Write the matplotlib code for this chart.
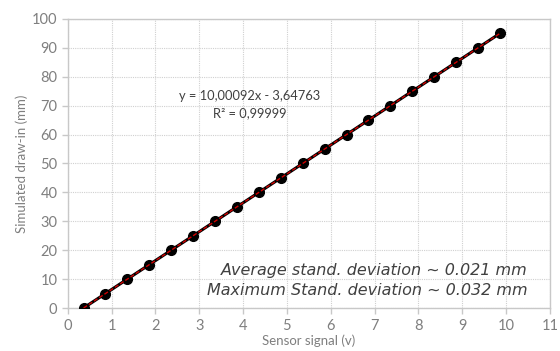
import numpy as np
import matplotlib.pyplot as plt

# sensor signal (v) vs simulated draw-in (mm)
signal = [0.36, 0.86, 1.36, 1.86, 2.36, 2.86, 3.36, 3.86, 4.36, 4.86,
          5.36, 5.86, 6.36, 6.86, 7.36, 7.86, 8.36, 8.86, 9.36, 9.86]
draw_in = [0, 5, 10, 15, 20, 25, 30, 35, 40, 45,
           50, 55, 60, 65, 70, 75, 80, 85, 90, 95]

x_ticks = list(range(0, 12))
y_ticks = list(range(0, 101, 10))

plt.rcParams['font.family'] = ['Lato', 'DejaVu Sans']
gray = '#7f7f7f'

fig = plt.figure(figsize=(5.6, 3.51), dpi=100)
ax = fig.add_axes([0.121, 0.1225, 0.861, 0.8235])

ax.plot(signal, draw_in, '-', color='black', lw=2.2, marker='o', ms=7, mfc='black', mec='black', zorder=3)

# linear trendline
k, b = np.polyfit(signal, draw_in, 1)
xs = np.array([min(signal), max(signal)])
ax.plot(xs, k * xs + b, color='#d00000', lw=1.0, ls=(0, (3, 1.5)), zorder=4)

ax.text(4.15, 73.4, "y = 10,00092x - 3,64763", ha='center', va='center', fontsize=9.3, color='#404040')
ax.text(4.15, 67.4, "R² = 0,99999", ha='center', va='center', fontsize=9.3, color='#404040')

ax.text(10.5, 13.1, "Average stand. deviation ~ 0.021 mm", ha='right', va='center',
        fontsize=11.5, style='italic', color='#404040', family='DejaVu Sans')
ax.text(10.5, 6.1, "Maximum Stand. deviation ~ 0.032 mm", ha='right', va='center',
        fontsize=11.5, style='italic', color='#404040', family='DejaVu Sans')

ax.set_xlim(0, 11)
ax.set_ylim(0, 100)
ax.set_xticks(x_ticks)
ax.set_yticks(y_ticks)
ax.grid(True, color='#d0d0d0', ls=(0, (1, 1)), lw=0.8)
ax.set_axisbelow(True)
for s in ax.spines.values():
    s.set_color('#c8c8c8')
    s.set_linewidth(1.0)
ax.tick_params(axis='both', colors='#c8c8c8', labelcolor=gray, labelsize=10.5, length=4, width=1)
ax.tick_params(axis='x', pad=4)
ax.set_xlabel("Sensor signal (v)", fontsize=9.5, color=gray, labelpad=1)
ax.set_ylabel("Simulated draw-in (mm)", fontsize=9.5, color=gray, labelpad=3)

fig.savefig('out.png', dpi=100)
